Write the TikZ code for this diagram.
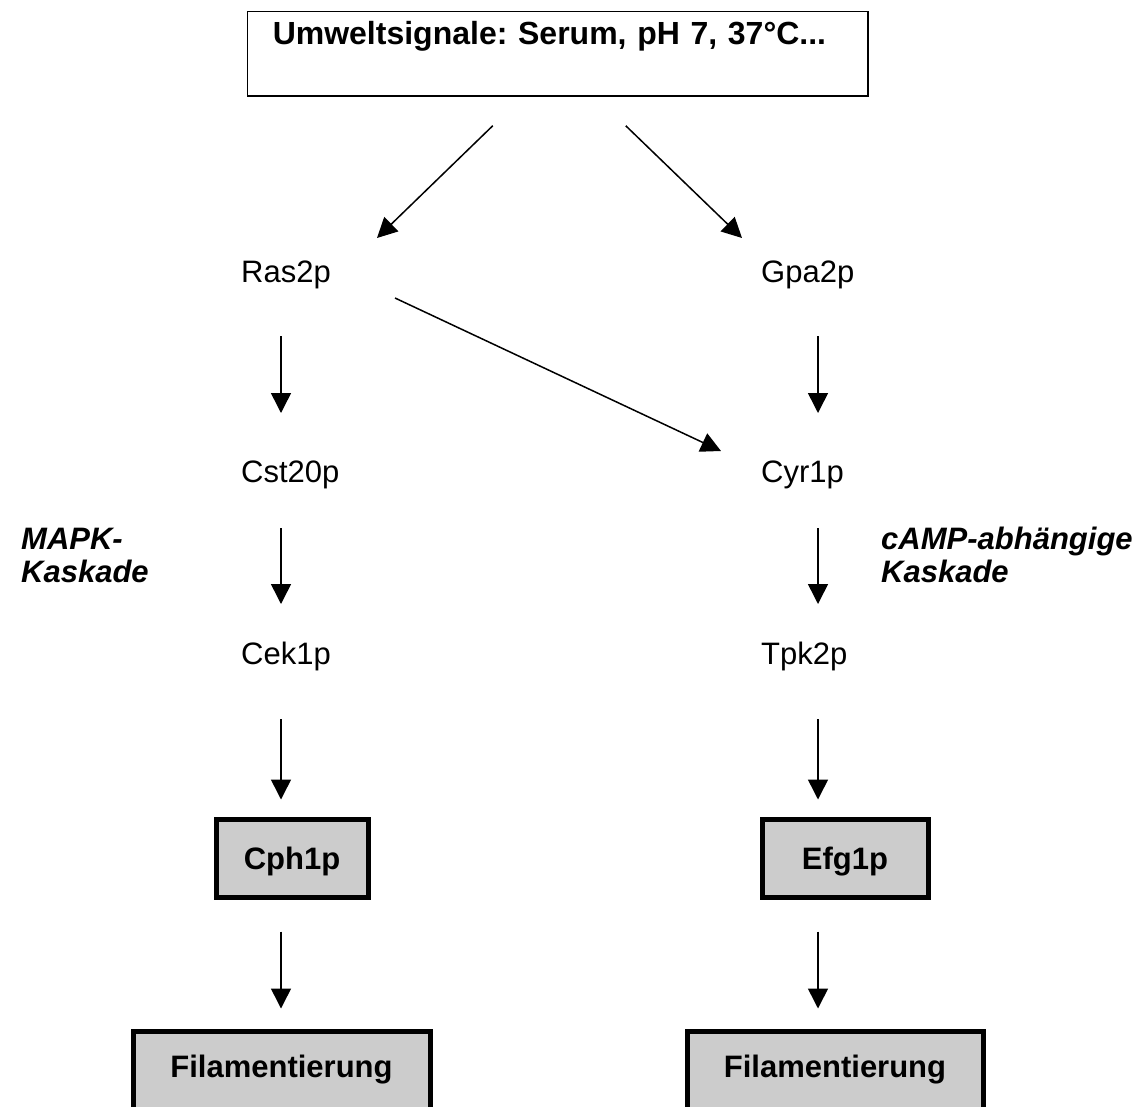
\documentclass[tikz,border=0pt]{standalone}
\usepackage{fontspec}
\setmainfont{Liberation Sans}
\usetikzlibrary{arrows.meta}
\definecolor{boxgray}{HTML}{CCCCCC}
\frenchspacing
\begin{document}
\begin{tikzpicture}[x=1pt,y=-1pt,
  every node/.style={inner sep=0pt},
  prot/.style={anchor=base west, font=\fontsize{31}{36}\selectfont},
  lab/.style={anchor=base west, align=left, font=\bfseries\itshape\fontsize{31}{33}\selectfont},
  arr/.style={line width=1.5pt, -{Triangle[length=20pt,width=20pt]}},
  thinbox/.style={draw, line width=1.5pt, align=left, text width=#1,
    font=\bfseries\fontsize{32}{36}\selectfont},
  thickbox/.style={draw, line width=5pt, fill=boxgray, align=center, text width=#1,
    font=\bfseries\fontsize{31}{36}\selectfont}
  ]
\useasboundingbox (0,0) rectangle (1143,1106);

% top box (outer 246-868 x 10-96)
\node[thinbox=620.5pt, anchor=north west, text height=23pt, text depth=41pt, inner ysep=10.25pt]
  (env) at (246.75,10.75) {\hspace*{25.25pt}Umweltsignale: Serum, pH 7, 37°C...};

% proteins
\node[prot] (ras) at (241,282) {Ras2p};
\node[prot] (gpa) at (761,282) {Gpa2p};
\node[prot] (cst) at (241,482) {Cst20p};
\node[prot] (cyr) at (761,482) {Cyr1p};
\node[prot] (cek) at (241,664) {Cek1p};
\node[prot] (tpk) at (761,664) {Tpk2p};

% cascade labels
\node[lab] (mapk) at (21,582) {MAPK-\\Kaskade};
\node[lab] (camp) at (881,582) {cAMP-abhängige\\Kaskade};

% transcription factor boxes (outer 211-368, 757-928; y 814-897)
\node[thickbox=152pt, anchor=north west, text height=22pt, text depth=0pt, inner ysep=28pt]
  (cph) at (213.5,816.5) {Cph1p};
\node[thickbox=166pt, anchor=north west, text height=22pt, text depth=0pt, inner ysep=28pt]
  (efg) at (759.5,816.5) {Efg1p};

% output boxes (outer 128-430, 682-983; top 1026)
\node[thickbox=297pt, anchor=north west, text height=22pt, text depth=40pt, inner ysep=24.5pt]
  (filL) at (130.5,1028.5) {Filamentierung};
\node[thickbox=296pt, anchor=north west, text height=22pt, text depth=40pt, inner ysep=24.5pt]
  (filR) at (684.5,1028.5) {Filamentierung};

% arrows
\draw[arr] ([shift={(-65,29)}]env.south) -- ([shift={(136,-44)}]ras.base west);
\draw[arr] ([shift={(68,29)}]env.south) -- ([shift={(-19,-44)}]gpa.base west);
\draw[arr] ([shift={(154,16)}]ras.base west) -- ([shift={(-40,-31)}]cyr.base west);

\draw[arr] ([shift={(40,54)}]ras.base west) -- ([shift={(40,-69)}]cst.base west);
\draw[arr] ([shift={(40,46)}]cst.base west) -- ([shift={(40,-60)}]cek.base west);
\draw[arr] ([shift={(40,55)}]cek.base west) -- ([shift={(0,-17)}]cph.north -| {(281,0)});
\draw[arr] ([shift={(0,32)}]cph.south -| {(281,0)}) -- ([shift={(0,-20)}]filL.north -| {(281,0)});

\draw[arr] ([shift={(57,54)}]gpa.base west) -- ([shift={(57,-69)}]cyr.base west);
\draw[arr] ([shift={(57,46)}]cyr.base west) -- ([shift={(57,-60)}]tpk.base west);
\draw[arr] ([shift={(57,55)}]tpk.base west) -- ([shift={(0,-17)}]efg.north -| {(818,0)});
\draw[arr] ([shift={(0,32)}]efg.south -| {(818,0)}) -- ([shift={(0,-20)}]filR.north -| {(818,0)});
\end{tikzpicture}
\end{document}
